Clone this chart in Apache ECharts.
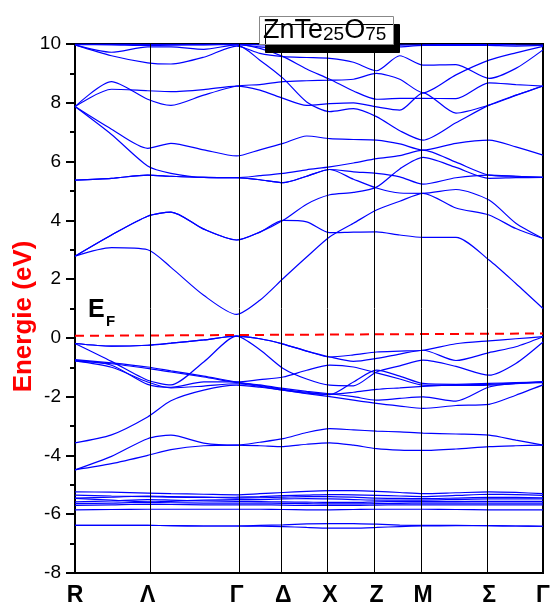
<!DOCTYPE html>
<html>
<head>
<meta charset="utf-8">
<script src="https://cdn.jsdelivr.net/npm/echarts@6/dist/echarts.min.js"></script>
<style>
  html, body { margin: 0; padding: 0; background: #fff; }
  #chart { width: 553px; height: 608px; }
</style>
</head>
<body>
<div id="chart"></div>
<script>
// k-path: positions of the high symmetry points (normalised path length)
const kTicks = [0, 0.1552, 0.3453, 0.4448, 0.5445, 0.6442, 0.7438, 0.8847, 1.0];
const kLabels = ["R", "Λ", "Γ", "Δ", "X", "Z", "M", "Σ", "Γ"];

const kGrid = [0, 0.078, 0.1552, 0.205, 0.275, 0.3453, 0.395, 0.4448, 0.495,
  0.5445, 0.595, 0.6442, 0.694, 0.7438, 0.814, 0.8847, 0.942, 1.0];

// conduction bands (eV)
const conductionBands = [
  [9.98, 9.97, 9.95, 9.96, 9.97, 9.98, 9.9, 9.85, 9.8, 9.78, 9.82, 9.86, 9.9, 9.95, 9.96, 9.95, 9.93, 9.95],
  [9.99, 9.99, 9.99, 9.99, 9.99, 9.99, 9.97, 9.95, 9.93, 9.92, 9.93, 9.95, 9.96, 9.97, 9.98, 9.98, 9.97, 9.96],
  [9.97, 9.6, 9.36, 9.32, 9.55, 9.93, 9.68, 9.57, 9.54, 9.51, 9.38, 9.09, 9.6, 9.28, 9.3, 8.83, 9.17, 9.8],
  [9.97, 9.72, 9.9, 9.9, 9.82, 9.97, 9.45, 8.83, 8.03, 7.7, 7.8, 7.53, 7.05, 6.73, 7.32, 7.92, 8.26, 8.57],
  [7.87, 8.72, 8.12, 7.91, 8.26, 8.57, 8.62, 8.72, 8.75, 8.77, 8.8, 9.0, 8.8, 8.34, 8.95, 9.45, 9.7, 9.92],
  [7.87, 8.46, 8.41, 8.38, 8.45, 8.57, 8.43, 8.15, 7.91, 7.97, 8.0, 7.86, 7.75, 8.34, 7.65, 7.92, 8.25, 8.57],
  [9.99, 9.99, 9.98, 9.98, 9.98, 9.99, 9.85, 9.57, 9.15, 8.8, 8.4, 8.12, 8.15, 8.15, 8.14, 8.68, 8.62, 8.57],
  [7.87, 7.1, 6.45, 6.62, 6.4, 6.19, 6.4, 6.62, 6.87, 6.78, 6.75, 6.73, 6.6, 6.39, 6.62, 6.73, 6.5, 6.22],
  [7.87, 6.92, 5.85, 5.6, 5.46, 5.45, 5.52, 5.6, 5.72, 5.82, 5.95, 6.1, 6.2, 6.39, 5.98, 5.54, 5.5, 5.46],
  [5.37, 5.43, 5.54, 5.5, 5.46, 5.45, 5.38, 5.28, 5.5, 5.73, 5.65, 5.6, 5.48, 5.23, 5.45, 5.54, 5.5, 5.46],
  [5.37, 5.43, 5.54, 5.5, 5.46, 5.45, 5.38, 5.28, 5.5, 5.73, 5.4, 5.1, 4.93, 4.92, 5.05, 4.69, 3.9, 3.38],
  [2.78, 3.5, 4.14, 4.28, 3.7, 3.33, 3.6, 4.0, 4.55, 4.87, 4.95, 5.13, 5.75, 6.14, 5.8, 5.43, 5.45, 5.46],
  [2.78, 3.5, 4.14, 4.28, 3.7, 3.33, 3.6, 4.0, 3.95, 3.58, 3.6, 3.61, 3.5, 3.42, 3.42, 2.65, 1.85, 1.0],
  [2.78, 3.07, 3.0, 2.4, 1.45, 0.8, 1.28, 2.02, 2.75, 3.44, 3.9, 4.35, 4.65, 4.92, 4.42, 4.18, 3.72, 3.38]
];

// valence bands (eV)
const valenceBands = [
  [-0.19, -0.28, -0.25, -0.18, -0.07, 0.06, -0.03, -0.21, -0.45, -0.65, -0.58, -0.48, -0.45, -0.42, -0.2, -0.1, -0.03, 0.04],
  [-0.19, -0.28, -0.25, -0.18, -0.07, 0.06, -0.03, -0.21, -0.45, -0.65, -0.8, -0.7, -0.55, -0.42, -0.77, -0.5, -0.3, 0.04],
  [-0.19, -0.8, -1.44, -1.6, -0.82, 0.06, -0.4, -1.04, -1.4, -1.61, -1.63, -1.16, -0.95, -0.76, -0.97, -1.27, -0.87, -0.14],
  [-0.74, -0.85, -0.99, -1.12, -1.3, -1.5, -1.6, -1.72, -1.82, -1.9, -2.0, -2.12, -2.06, -2.01, -2.15, -1.67, -1.55, -1.5],
  [-0.78, -0.88, -1.04, -1.16, -1.33, -1.52, -1.62, -1.75, -1.85, -1.93, -1.5, -1.1, -1.3, -1.55, -1.58, -1.55, -1.52, -1.5],
  [-0.76, -0.93, -1.58, -1.68, -1.5, -1.5, -1.42, -1.33, -1.1, -0.93, -0.99, -1.19, -1.4, -1.61, -1.62, -1.61, -1.56, -1.5],
  [-0.78, -1.0, -1.5, -1.7, -1.64, -1.56, -1.65, -1.78, -1.88, -1.92, -1.85, -1.75, -1.7, -1.65, -1.6, -1.58, -1.54, -1.52],
  [-3.57, -3.3, -2.69, -2.14, -1.78, -1.61, -1.68, -1.78, -1.9, -2.0, -2.12, -2.23, -2.32, -2.4, -2.3, -2.26, -1.95, -1.6],
  [-4.49, -4.03, -3.43, -3.31, -3.58, -3.65, -3.55, -3.43, -3.22, -3.09, -3.13, -3.17, -3.2, -3.24, -3.27, -3.31, -3.48, -3.65],
  [-4.49, -4.28, -4.0, -3.8, -3.67, -3.65, -3.67, -3.7, -3.62, -3.57, -3.65, -3.77, -3.82, -3.83, -3.78, -3.7, -3.67, -3.65]
];

// semi-core bands (eV)
const coreBands = [
  [-5.24, -5.25, -5.28, -5.3, -5.32, -5.34, -5.3, -5.26, -5.22, -5.2, -5.2, -5.22, -5.26, -5.3, -5.27, -5.24, -5.26, -5.3],
  [-5.35, -5.38, -5.4, -5.42, -5.43, -5.42, -5.4, -5.37, -5.35, -5.33, -5.34, -5.36, -5.38, -5.4, -5.36, -5.32, -5.33, -5.36],
  [-5.45, -5.42, -5.38, -5.4, -5.42, -5.45, -5.44, -5.42, -5.4, -5.4, -5.42, -5.45, -5.46, -5.47, -5.45, -5.43, -5.43, -5.44],
  [-5.46, -5.52, -5.58, -5.56, -5.52, -5.5, -5.5, -5.48, -5.47, -5.48, -5.5, -5.52, -5.52, -5.52, -5.5, -5.48, -5.48, -5.48],
  [-5.58, -5.55, -5.5, -5.52, -5.55, -5.56, -5.57, -5.58, -5.59, -5.6, -5.6, -5.58, -5.57, -5.57, -5.57, -5.56, -5.56, -5.56],
  [-5.64, -5.62, -5.6, -5.61, -5.62, -5.62, -5.62, -5.63, -5.64, -5.65, -5.65, -5.64, -5.63, -5.62, -5.62, -5.62, -5.62, -5.62],
  [-5.7, -5.68, -5.66, -5.67, -5.68, -5.68, -5.68, -5.69, -5.7, -5.7, -5.7, -5.69, -5.68, -5.68, -5.68, -5.68, -5.68, -5.68],
  [-5.85, -5.84, -5.83, -5.83, -5.83, -5.83, -5.83, -5.84, -5.85, -5.85, -5.84, -5.83, -5.83, -5.83, -5.84, -5.85, -5.85, -5.85],
  [-6.38, -6.38, -6.38, -6.39, -6.4, -6.4, -6.38, -6.36, -6.33, -6.32, -6.32, -6.34, -6.37, -6.38, -6.38, -6.39, -6.4, -6.41],
  [-6.38, -6.38, -6.38, -6.39, -6.4, -6.4, -6.41, -6.42, -6.45, -6.47, -6.47, -6.45, -6.42, -6.4, -6.39, -6.39, -6.4, -6.41]
];

// Fermi level (dashed red)
const fermiK = [0, 1];
const fermiE = [0.07, 0.15];

const FONT = "Liberation Sans, Arial, sans-serif";

var myChart = echarts.init(document.getElementById("chart"));

function bandSeries(band) {
  return {
    type: "line",
    data: kGrid.map((k, i) => [k, band[i]]),
    smooth: 0.25,
    symbol: "none",
    silent: true,
    lineStyle: { color: "#0000ff", width: 1.2 },
    z: 3,
  };
}

const allBands = conductionBands.concat(valenceBands, coreBands);

let series = allBands.map(bandSeries);

// vertical lines at the symmetry points
series.push({
  type: "line",
  data: [],
  silent: true,
  markLine: {
    silent: true,
    symbol: "none",
    label: { show: false },
    lineStyle: { color: "#000", width: 1, type: "solid" },
    data: kTicks.slice(1, -1).map((k) => ({ xAxis: k })),
  },
  z: 2,
});

series.push({
  type: "line",
  data: fermiK.map((k, i) => [k, fermiE[i]]),
  symbol: "none",
  silent: true,
  lineStyle: { color: "#ff0000", width: 2, type: [9, 6] },
  z: 4,
});

let option = {
  animation: false,
  title: {
    text: "{a|ZnTe}{b|25}{a|O}{b|75}",
    left: 259,
    top: 14,
    padding: [1, 7, 1, 4],
    backgroundColor: "#fff",
    borderColor: "#888",
    borderWidth: 1,
    shadowColor: "#000",
    shadowBlur: 0,
    shadowOffsetX: 6,
    shadowOffsetY: 8,
    textStyle: {
      fontWeight: "normal",
      rich: {
        a: { fontFamily: FONT, fontSize: 27, fontWeight: "normal", color: "#000", lineHeight: 29, verticalAlign: "bottom" },
        b: { fontFamily: FONT, fontSize: 19, fontWeight: "normal", color: "#000", lineHeight: 29, verticalAlign: "bottom" },
      },
    },
  },
  grid: {
    left: 75,
    top: 44,
    right: 10,
    bottom: 35,
    show: true,
    borderColor: "#000",
    borderWidth: 2,
    containLabel: false,
    outerBoundsMode: "none",
  },
  xAxis: {
    type: "value",
    min: 0,
    max: 1,
    splitLine: { show: false },
    axisTick: { show: false },
    axisLine: { show: true, onZero: false, lineStyle: { color: "#000", width: 2 } },
    axisLabel: {
      customValues: kTicks,
      margin: 11,
      color: "#000",
      fontFamily: FONT,
      fontSize: 23,
      fontWeight: "bold",
      formatter: function (value) {
        const idx = kTicks.findIndex((k) => Math.abs(k - value) < 1e-4);
        return idx >= 0 ? kLabels[idx] : "";
      },
    },
  },
  yAxis: {
    type: "value",
    min: -8,
    max: 10,
    interval: 2,
    name: "Energie (eV)",
    nameLocation: "middle",
    nameGap: 38,
    nameMoveOverlap: false,
    nameTextStyle: {
      color: "#ff0000",
      fontFamily: FONT,
      fontSize: 26,
      fontWeight: "bold",
      padding: [0, 16, 0, 0],
    },
    splitLine: { show: false },
    axisLine: { show: true, onZero: false, lineStyle: { color: "#000", width: 2 } },
    axisTick: { show: true, length: 9, lineStyle: { color: "#000", width: 2 } },
    minorTick: { show: true, splitNumber: 2, length: 5, lineStyle: { color: "#000", width: 2 } },
    axisLabel: {
      color: "#000",
      fontFamily: FONT,
      fontSize: 19,
      margin: 14,
    },
  },
  graphic: [
    {
      type: "text",
      left: 88,
      top: 298,
      style: { text: "E", fill: "#000", font: "bold 25px " + FONT },
    },
    {
      type: "text",
      left: 106,
      top: 314,
      style: { text: "F", fill: "#000", font: "bold 15px " + FONT },
    },
  ],
  series: series,
};

myChart.setOption(option);
</script>
</body>
</html>
